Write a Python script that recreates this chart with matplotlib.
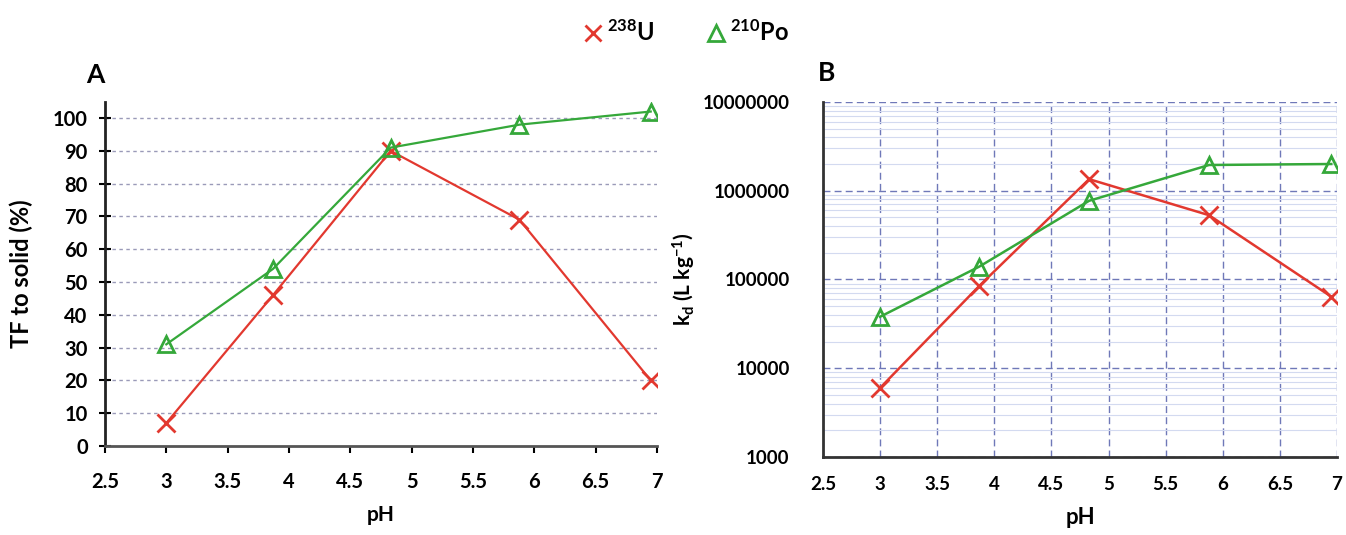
import matplotlib
matplotlib.use("Agg")
import matplotlib.pyplot as plt
from matplotlib.lines import Line2D
from matplotlib.ticker import LogLocator, FixedLocator, NullFormatter

plt.rcParams['font.family'] = ['Lato', 'DejaVu Sans']
plt.rcParams['font.weight'] = 'bold'
plt.rcParams['mathtext.fontset'] = 'custom'
plt.rcParams['mathtext.rm'] = 'Lato:bold'
plt.rcParams['mathtext.bf'] = 'Lato:bold'
plt.rcParams['mathtext.it'] = 'Lato:bold'

# ---- data ----
ph = [3.0, 3.87, 4.83, 5.88, 6.95]
tf_u238 = [7, 46, 90, 69, 20]
tf_po210 = [31, 54, 91, 98, 102]
kd_u238 = [6000, 85000, 1350000, 530000, 64000]
kd_po210 = [38000, 140000, 770000, 1950000, 2000000]
x_ticks = [2.5, 3, 3.5, 4, 4.5, 5, 5.5, 6, 6.5, 7]
x_ticklabels = ['2.5', '3', '3.5', '4', '4.5', '5', '5.5', '6', '6.5', '7']
tf_ticks = [0, 10, 20, 30, 40, 50, 60, 70, 80, 90, 100]
kd_ticks = [1000, 10000, 100000, 1000000, 10000000]
kd_ticklabels = ['1000', '10000', '100000', '1000000', '10000000']
series_names = [r'$^{238}$U', r'$^{210}$Po']

RED = '#e2382f'
GREEN = '#35a83a'

fig = plt.figure(figsize=(13.46, 5.35), dpi=100)
fig.patch.set_facecolor('white')

# ---- Panel A ----
axA = fig.add_axes([0.078, 0.1664, 0.410, 0.6435])
axA.set_xlim(2.5, 7)
axA.set_ylim(0, 105)
axA.set_xticks(x_ticks)
axA.set_xticklabels(x_ticklabels)
axA.set_yticks(tf_ticks)
for y in tf_ticks[1:]:
    axA.axhline(y, color='#9a9ab8', lw=1.0, ls=(0, (2.5, 2.5)), zorder=0)
axA.plot(ph, tf_u238, color=RED, lw=1.6, marker='x', ms=13, mew=2.0, zorder=3)
axA.plot(ph, tf_po210, color=GREEN, lw=1.6, marker='^', ms=12, mew=2.0,
         mfc='none', mec=GREEN, zorder=4)
for s in ['top', 'right']:
    axA.spines[s].set_visible(False)
for s in ['left', 'bottom']:
    axA.spines[s].set_linewidth(2.0)
    axA.spines[s].set_color('#222222')
axA.spines['bottom'].set_color('#555555')
axA.tick_params(axis='y', direction='inout', length=9, width=1.5, labelsize=14.5, pad=8)
axA.tick_params(axis='x', direction='out', length=5, width=1.5, labelsize=14.5, pad=14)
axA.set_xlabel('pH', fontsize=15, fontweight='bold', labelpad=9)
axA.set_ylabel('TF to solid (%)', fontsize=17, fontweight='bold', labelpad=14)
fig.text(95 / 1346, 1 - 75 / 535, 'A', fontsize=19, fontweight='bold', ha='center', va='center')

# ---- Panel B ----
axB = fig.add_axes([0.6114, 0.1458, 0.3819, 0.6636])
axB.set_yscale('log')
axB.set_xlim(2.5, 7)
axB.set_ylim(1000, 10000000)
axB.set_xticks(x_ticks)
axB.set_xticklabels(x_ticklabels)
axB.yaxis.set_major_locator(FixedLocator(kd_ticks))
axB.set_yticklabels(kd_ticklabels)
axB.yaxis.set_minor_locator(LogLocator(base=10, subs=[2, 3, 4, 5, 6, 7, 8, 9]))
axB.yaxis.set_minor_formatter(NullFormatter())
axB.grid(which='minor', axis='y', color='#d3daf0', lw=0.8, ls='-', zorder=0)
axB.grid(which='major', axis='both', color='#6f78b8', lw=1.0, ls=(0, (5, 3)), zorder=0)
axB.plot(ph, kd_u238, color=RED, lw=1.8, marker='x', ms=13, mew=2.0, zorder=3)
axB.plot(ph, kd_po210, color=GREEN, lw=1.8, marker='^', ms=12, mew=2.0,
         mfc='none', mec=GREEN, zorder=4)
for s in ['top', 'right']:
    axB.spines[s].set_visible(False)
for s in ['left', 'bottom']:
    axB.spines[s].set_linewidth(2.0)
    axB.spines[s].set_color('#333333')
axB.tick_params(axis='both', which='both', length=0, labelsize=13.5)
axB.tick_params(axis='x', pad=14)
axB.tick_params(axis='y', pad=24)
axB.set_xlabel('pH', fontsize=16, fontweight='bold', labelpad=10)
axB.set_ylabel(r'k$_{d}$ (L kg$^{-1}$)', fontsize=15, fontweight='bold', labelpad=3)
fig.text(827 / 1346, 1 - 73 / 535, 'B', fontsize=19, fontweight='bold', ha='center', va='center')

# ---- Legend ----
handles = [
    Line2D([], [], color=RED, ls='none', marker='x', ms=11, mew=2.0),
    Line2D([], [], color=GREEN, ls='none', marker='^', ms=11, mew=2.0, mfc='none'),
]
fig.legend(handles, series_names, loc='center', bbox_to_anchor=(686 / 1346, 1 - 32 / 535),
           ncol=2, frameon=False, handlelength=0.8, handletextpad=0.2,
           columnspacing=2.2, prop={'weight': 'bold', 'size': 17})

fig.savefig('out.png', dpi=100, facecolor='white')
